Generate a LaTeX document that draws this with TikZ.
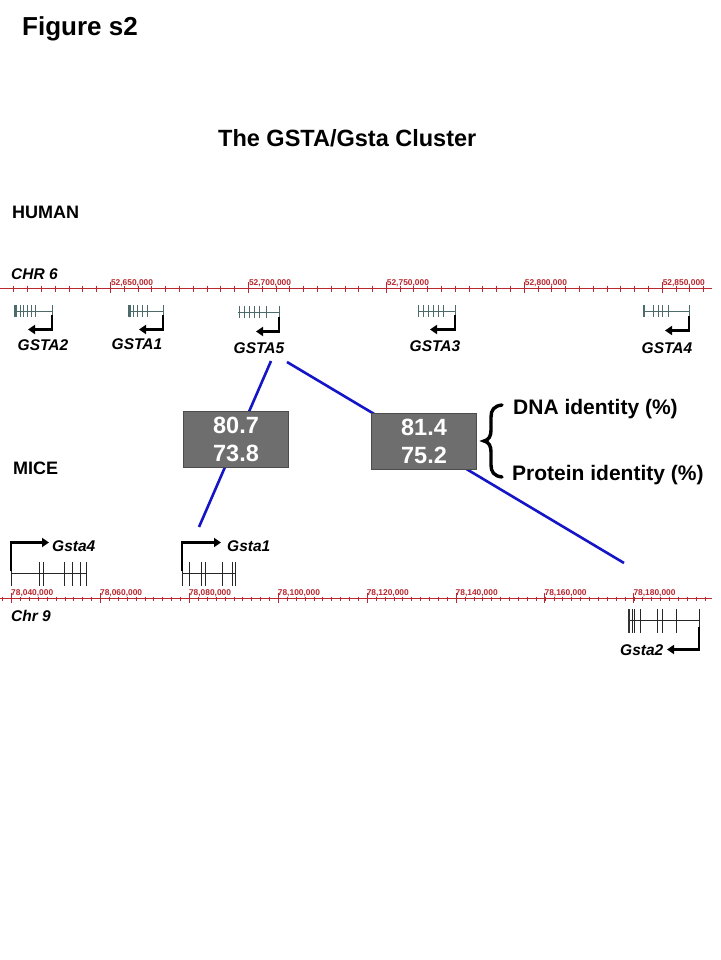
\documentclass[tikz,border=0pt]{standalone}
\usepackage{fontspec}
\setmainfont{Liberation Sans}
\usetikzlibrary{arrows.meta}
\definecolor{rulerred}{HTML}{B8282E}
\definecolor{genegray}{HTML}{4E6B6B}
\definecolor{boxgray}{HTML}{6E6E6E}
\definecolor{linkblue}{HTML}{1515C8}
\tikzset{
  rulerline/.style={draw=rulerred, line width=0.9pt},
  rulertick/.style={draw=rulerred, line width=0.6pt},
  rulerlbl/.style={text=rulerred, font=\fontsize{8.4}{9}\selectfont\bfseries, inner sep=0pt, anchor=base west},
  hgene/.style={draw=genegray, line width=1pt},
  mgene/.style={draw=black!85, line width=0.8pt},
  genearrow/.style={draw=black, line width=2.8pt, -{Triangle[width=9pt,length=7pt]}},
  genelbl/.style={font=\fontsize{15.5}{16}\selectfont\bfseries\itshape, inner sep=0pt, anchor=base},
  mgenelbl/.style={font=\fontsize{15.5}{16}\selectfont\bfseries\itshape, inner sep=0pt, anchor=base west},
  headlbl/.style={font=\fontsize{18}{20}\selectfont\bfseries, inner sep=0pt, anchor=base west},
  chrlbl/.style={font=\fontsize{15.5}{16}\selectfont\bfseries\itshape, inner sep=0pt, anchor=base west},
  idbox/.style={draw=black!70, fill=boxgray, line width=0.8pt, text=white, minimum width=105pt, minimum height=56pt, inner sep=0pt, align=center, font=\fontsize{23.5}{28}\selectfont\bfseries},
  link/.style={draw=linkblue, line width=2.6pt},
  idlbl/.style={font=\fontsize{21}{22}\selectfont\bfseries, inner sep=0pt, anchor=base west},
  bracestroke/.style={draw=black, line width=3.4pt, line cap=round}
}
\begin{document}
\begin{tikzpicture}[x=1pt,y=-1pt]
\useasboundingbox (0,0) rectangle (720,960);
\fill[white] (0,0) rectangle (720,960);

% titles
\node[font=\fontsize{26}{28}\selectfont\bfseries, inner sep=0pt, anchor=base west] (fig) at (22,36) {Figure s2};
\node[font=\fontsize{23.5}{26}\selectfont\bfseries, inner sep=0pt, anchor=base west] (title) at (218,147) {The GSTA/Gsta Cluster};
\node[headlbl] (human) at (12,218) {HUMAN};
\node[headlbl] (mice) at (13,474) {MICE};
\node[chrlbl] (chr6) at (11,279) {CHR 6};
\node[chrlbl] (chr9) at (11,621) {Chr 9};

% human ruler
\draw[rulerline] (0,288.5) -- (712,288.5);
\foreach \i in {-7,...,43} \draw[rulertick] ({110.3+13.795*\i},285.5) -- ++(0,6);
\foreach \x/\t in {110.3/{52,650,000},248.3/{52,700,000},386.2/{52,750,000},524.2/{52,800,000},662.1/{52,850,000}}{
  \draw[rulertick, line width=1pt] (\x,282) -- (\x,293);
  \node[rulerlbl] at (\x+0.5,285) {\t};
}

% mouse ruler
\draw[rulerline] (0,598.5) -- (712,598.5);
\foreach \i in {-1,...,78} \draw[rulertick, line width=0.5pt] ({11.5+8.89*\i},596.5) -- ++(0,4);
\foreach \x/\t in {11.5/{78,040,000},100.4/{78,060,000},189.3/{78,080,000},278.2/{78,100,000},367.1/{78,120,000},456/{78,140,000},544.9/{78,160,000},633.8/{78,180,000}}{
  \draw[rulertick, line width=1pt] (\x,593) -- (\x,603);
  \node[rulerlbl] at (\x-0.5,595) {\t};
}

% human genes
% GSTA2
\draw[hgene] (14,311) -- (52,311);
\fill[genegray] (14,305) rectangle (17,317);
\foreach \x in {20,23,27,31,35,52} \draw[hgene] (\x,305) -- (\x,317);
\draw[genearrow] (52,315) |- (28,329.5);
\node[genelbl] (gsta2h) at (43,350) {GSTA2};
% GSTA1
\draw[hgene] (128,311) -- (163,311);
\fill[genegray] (128,305) rectangle (131,317);
\foreach \x in {133,137,142,147,163} \draw[hgene] (\x,305) -- (\x,317);
\draw[genearrow] (163,315) |- (139,329.5);
\node[genelbl] (gsta1h) at (137,349) {GSTA1};
% GSTA5
\draw[hgene] (238,312) -- (279,312);
\foreach \x in {239,244,249,254,259,266,279} \draw[hgene] (\x,306) -- (\x,318);
\draw[genearrow] (279,317) |- (256,331.5);
\node[genelbl] (gsta5h) at (259,353) {GSTA5};
% GSTA3
\draw[hgene] (418,311) -- (455,311);
\foreach \x in {418,423,428,433,438,443,455} \draw[hgene] (\x,305) -- (\x,317);
\draw[genearrow] (455,315) |- (430,329.5);
\node[genelbl] (gsta3h) at (435,351) {GSTA3};
% GSTA4
\draw[hgene] (643,311) -- (689,311);
\fill[genegray] (642.5,305) rectangle (645,317);
\foreach \x in {653,658,662,668,689} \draw[hgene] (\x,305) -- (\x,317);
\draw[genearrow] (689,316) |- (665,330.5);
\node[genelbl] (gsta4h) at (667,353) {GSTA4};

% mouse genes
% Gsta4
\draw[mgene] (11,573) -- (86,573);
\foreach \x in {11,39,43,64,72,80,86} \draw[mgene] (\x,562) -- (\x,586);
\draw[genearrow] (11,571) |- (49,542.5);
\node[mgenelbl] (gsta4m) at (52,551) {Gsta4};
% Gsta1
\draw[mgene] (182,573) -- (235,573);
\foreach \x in {182,189,201,205,222,232,235} \draw[mgene] (\x,562) -- (\x,586);
\draw[genearrow] (182,571) |- (221,542.5);
\node[mgenelbl] (gsta1m) at (227,551) {Gsta1};
% Gsta2
\draw[mgene] (628,620) -- (699,620);
\fill[black!80] (627.5,609) rectangle (629.5,633);
\foreach \x in {632,634,640,657,662,676,699} \draw[mgene] (\x,609) -- (\x,633);
\draw[genearrow] (699,627) |- (667,649.5);
\node[mgenelbl] (gsta2m) at (620,655) {Gsta2};

% links
\coordinate (l1a) at (271,361);
\coordinate (l1b) at (199,527);
\coordinate (l2a) at (287,362);
\coordinate (l2b) at (624,563);
\draw[link] (l1a) -- (l1b);
\draw[link] (l2a) -- (l2b);

% identity boxes
\node[idbox] (box1) at (236,439) {80.7\\73.8};
\node[idbox] (box2) at (424,441) {81.4\\75.2};

% brace and legend
\draw[bracestroke] (502,405) .. controls (494,406) and (491,410) .. (491,417) -- (491,430)
  .. controls (491,436) and (489,440) .. (484,441)
  .. controls (489,442) and (491,446) .. (491,452) -- (491,465)
  .. controls (491,472) and (494,476) .. (502,477);
\node[idlbl] (dna) at (513,414) {DNA identity (\%)};
\node[idlbl] (prot) at (512,480) {Protein identity (\%)};
\end{tikzpicture}
\end{document}
